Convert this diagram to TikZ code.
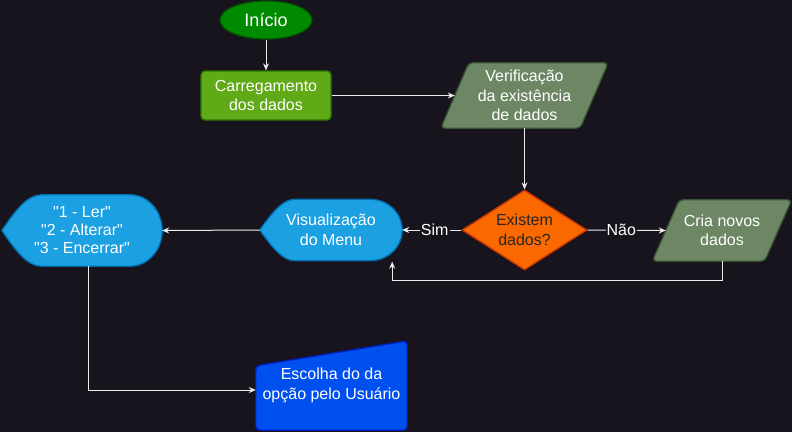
\documentclass[tikz,border=0pt]{standalone}
\usepackage{fontspec}
\setmainfont{Liberation Sans}[Ligatures=TeXOff]
\usetikzlibrary{shapes.geometric, arrows.meta, backgrounds}

\definecolor{fundo}{RGB}{24,20,29}
\definecolor{linha}{RGB}{235,235,235}
\definecolor{verdeA}{HTML}{008A00}
\definecolor{verdeAB}{HTML}{005700}
\definecolor{verdeB}{HTML}{60A917}
\definecolor{verdeBB}{HTML}{2D7600}
\definecolor{verdeC}{HTML}{6D8764}
\definecolor{verdeCB}{HTML}{3A5431}
\definecolor{laranja}{HTML}{FA6800}
\definecolor{laranjaB}{HTML}{C73500}
\definecolor{azul}{HTML}{1BA1E2}
\definecolor{azulB}{HTML}{006EAF}
\definecolor{azulE}{HTML}{0050EF}
\definecolor{azulEB}{HTML}{001DBC}

\begin{document}
\begin{tikzpicture}[x=1pt, y=-1pt,
    font=\fontsize{16}{19.5}\selectfont,
    caixa/.style={text=white, align=center, inner sep=0pt},
    contorno/.style={line width=1.3pt},
    seta/.style={draw=linha, line width=1pt, -{Stealth[length=7pt,width=6pt]}},
    rotulo/.style={fill=fundo, text=white, inner sep=1pt}]

  \begin{scope}[on background layer]
    \fill[fundo] (0,0) rectangle (792,432);
  \end{scope}
  \useasboundingbox (0,0) rectangle (792,432);

  % nos
  \node[caixa, ellipse, contorno, fill=verdeA, draw=verdeAB, minimum width=92pt, minimum height=38pt, font=\fontsize{18}{20}\selectfont] (inicio) at (266,20) {Início};
  \node[caixa, contorno, rounded corners=4pt, fill=verdeB, draw=verdeBB, minimum width=130pt, minimum height=49pt] (carreg) at (266,95.5) {Carregamento\\dos dados};
  \node[caixa, minimum width=167pt, minimum height=65pt] (verif) at (524.5,95.5) {Verificação\\da existência\\de dados};
  \node[caixa, diamond, aspect=1.56, contorno, fill=laranja, draw=laranjaB, text=black!85, minimum width=125pt, minimum height=80pt] (existe) at (524.5,230) {Existem\\dados?};
  \node[caixa, minimum width=139pt, minimum height=61pt] (cria) at (722,230.5) {Cria novos\\dados};
  \node[caixa, minimum width=142pt, minimum height=61pt] (menu) at (331,230) {Visualização\\do Menu};
  \node[caixa, minimum width=160pt, minimum height=71pt, font=\fontsize{16}{18}\selectfont] (opcoes) at (82,230.5) {"1 - Ler"\\"2 - Alterar"\\"3 - Encerrar"};
  \node[caixa, minimum width=151pt, minimum height=89pt] (escolha) at (331.5,385.5) {Escolha do da\\opção pelo Usuário};

  % formas
  \begin{scope}[on background layer]
    \draw[contorno, rounded corners=4pt, fill=verdeC, draw=verdeCB] (verif.south west) -- ([xshift=28pt]verif.north west) -- (verif.north east) -- ([xshift=-28pt]verif.south east) -- cycle;
    \draw[contorno, rounded corners=4pt, fill=verdeC, draw=verdeCB] (cria.south west) -- ([xshift=27pt]cria.north west) -- (cria.north east) -- ([xshift=-27pt]cria.south east) -- cycle;
    \draw[contorno, fill=azul, draw=azulB] (menu.west) .. controls ([xshift=14pt,yshift=20pt]menu.west) and ([xshift=24pt]menu.north west) .. ([xshift=35pt]menu.north west)
      -- ([xshift=-32pt]menu.north east) .. controls ([xshift=-14.3pt]menu.north east) and ([yshift=16.8pt]menu.east) .. (menu.east)
      .. controls ([yshift=-16.8pt]menu.east) and ([xshift=-14.3pt]menu.south east) .. ([xshift=-32pt]menu.south east)
      -- ([xshift=35pt]menu.south west) .. controls ([xshift=24pt]menu.south west) and ([xshift=14pt,yshift=-20pt]menu.west) .. (menu.west) -- cycle;
    \draw[contorno, fill=azul, draw=azulB] (opcoes.west) .. controls ([xshift=16pt,yshift=23.7pt]opcoes.west) and ([xshift=26.7pt]opcoes.north west) .. ([xshift=40pt]opcoes.north west)
      -- ([xshift=-32pt]opcoes.north east) .. controls ([xshift=-14.3pt]opcoes.north east) and ([yshift=19.6pt]opcoes.east) .. (opcoes.east)
      .. controls ([yshift=-19.6pt]opcoes.east) and ([xshift=-14.3pt]opcoes.south east) .. ([xshift=-32pt]opcoes.south east)
      -- ([xshift=40pt]opcoes.south west) .. controls ([xshift=26.7pt]opcoes.south west) and ([xshift=16pt,yshift=-23.7pt]opcoes.west) .. (opcoes.west) -- cycle;
    \draw[contorno, rounded corners=4pt, fill=azulE, draw=azulEB] ([yshift=-25pt]escolha.north west) -- (escolha.north east) -- (escolha.south east) -- (escolha.south west) -- cycle;
  \end{scope}

  % ligacoes
  \draw[seta] (inicio) -- (carreg);
  \draw[seta] (carreg.east) -- ([xshift=14pt]verif.west);
  \draw[seta] (verif.south) -- (existe.north);
  \draw[seta] (existe.west) -- node[rotulo, pos=.45] {Sim} (menu.east);
  \draw[seta] (existe.east) -- node[rotulo, pos=.43] {Não} ([xshift=13.5pt]cria.west);
  \draw[seta] (cria.south) -- ++(0,19) -| ([xshift=-10pt,yshift=-1pt]menu.south east);
  \draw[seta] (menu.west) -- (opcoes.east);
  \draw[seta] ([xshift=6pt]opcoes.south) |- ([yshift=-4.5pt]escolha.west);
\end{tikzpicture}
\end{document}
